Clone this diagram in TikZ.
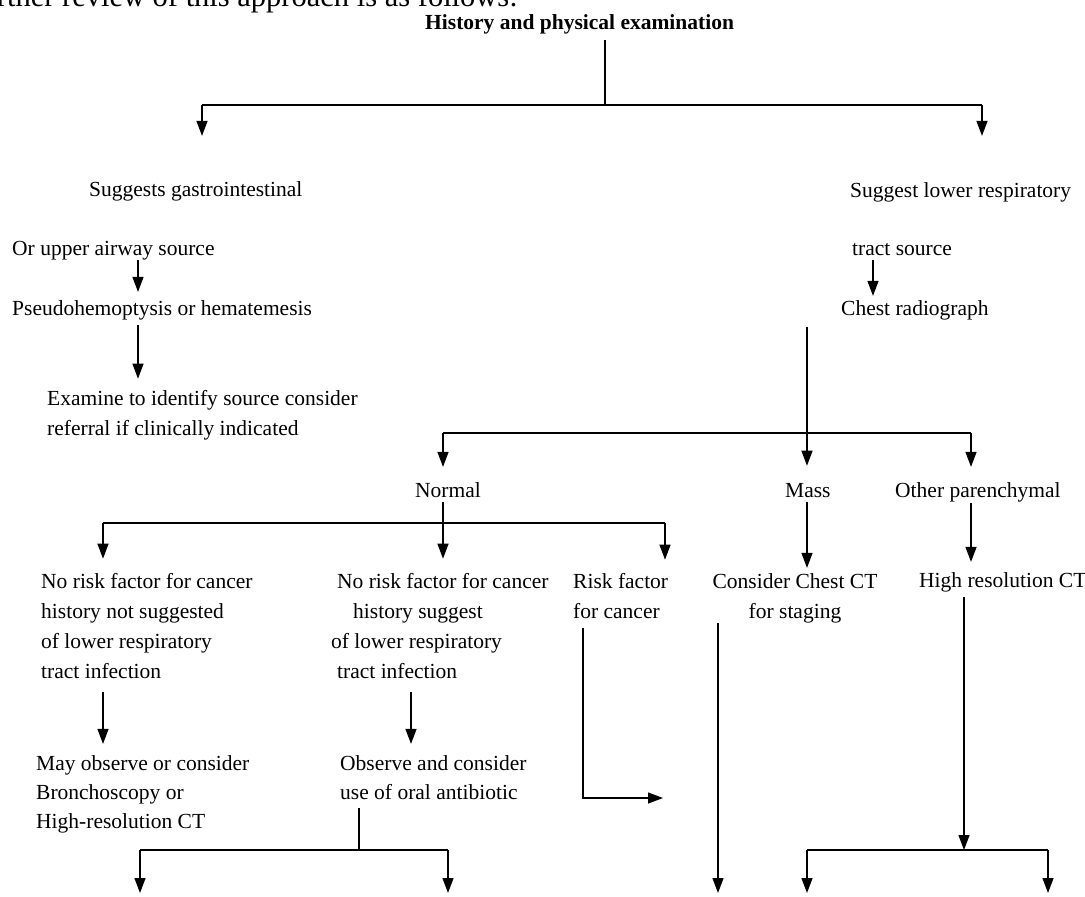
\documentclass[tikz,border=0pt]{standalone}
\usepackage{fontspec}
\setmainfont{Liberation Serif}
\usetikzlibrary{arrows.meta}

\begin{document}
\begin{tikzpicture}[x=1pt,y=-1pt,
  txt/.style={anchor=base west,inner sep=0pt,align=left,font=\fontsize{21.5}{30}\selectfont},
  link/.style={line width=1.3pt},
  arr/.style={link,-{Triangle[width=11pt,length=15pt]}}]
\useasboundingbox (0,0) rectangle (1085,897);
\begin{scope}
\clip (0,0) rectangle (1085,897);
\node[anchor=base east,inner sep=0pt,font=\fontsize{30.5}{34}\selectfont] (intro) at (518,6) {further review of this approach is as follows:};
\end{scope}
\node[txt,font=\fontsize{21.5}{26}\selectfont\bfseries] (title) at (425,29) {History and physical examination};
% first level (multi-line nodes sit on their last baseline)
\node[txt] (gi) at (89,196) {Suggests gastrointestinal};
\node[txt] (lr) at (850,197) {Suggest lower respiratory};
\node[txt] (orup) at (12,255) {Or upper airway source};
\node[txt] (tract) at (852,255) {tract source};
\node[txt] (pseudo) at (12,315) {Pseudohemoptysis or hematemesis};
\node[txt] (chest) at (841,315) {Chest radiograph};
\node[txt] (exam) at (47,435) {Examine to identify source consider\\referral if clinically indicated};
% radiograph results
\node[txt] (normal) at (415,497) {Normal};
\node[txt] (mass) at (785,497) {Mass};
\node[txt] (other) at (895,497) {Other parenchymal};
\node[txt] (norisk) at (41,678) {No risk factor for cancer\\history not suggested\\of lower respiratory\\tract infection};
\node[txt] (norisk2) at (331,678) {\hspace*{6pt}No risk factor for cancer\\\hspace*{22pt}history suggest\\of lower respiratory\\\hspace*{6pt}tract infection};
\node[txt] (risk) at (573,618) {Risk factor\\for cancer};
\node[txt,anchor=base,align=center] (ct) at (795,618) {Consider Chest CT\\for staging};
\node[txt] (hrct) at (919,587) {High resolution CT};
\node[txt,font=\fontsize{21.5}{29}\selectfont] (observe) at (36,828) {May observe or consider\\Bronchoscopy or\\High-resolution CT};
\node[txt,font=\fontsize{21.5}{29}\selectfont] (oral) at (340,799) {Observe and consider\\use of oral antibiotic};
% rails
\foreach \r/\x in {gx/138,rx/873,mx/807,nx/443,ox/971,ax/103,bx/411,kx/583,cx/718,hx/964,lx/359}
  {\coordinate (\r) at (\x,0);}
% top split
\coordinate (top) at (605,105);
\coordinate (topL) at (202,105);
\coordinate (topR) at (982,105);
\draw[link,shorten <=6pt] (title.south -| top) -- (top);
\draw[link] (topL) -- (topR);
\draw[arr,shorten >=45pt] (topL) -- (topL |- gi.north);
\draw[arr,shorten >=46pt] (topR) -- (topR |- lr.north);
% left branch
\draw[arr,shorten >=8pt] (gx |- orup.south) -- (gx |- pseudo.north);
\draw[arr,shorten <=5pt,shorten >=11pt] (gx |- pseudo.south) -- (gx |- exam.north);
% right branch
\draw[arr,shorten <=5pt,shorten >=4pt] (rx |- tract.south) -- (rx |- chest.north);
\draw[arr,shorten <=7pt,shorten >=17pt] (mx |- chest.south) -- (mx |- mass.north);
\coordinate (spL) at (443,433);
\coordinate (spR) at (971,433);
\draw[link] (spL) -- (spR);
\draw[arr,shorten >=15pt] (spL) -- (spL |- normal.north);
\draw[arr,shorten >=15pt] (spR) -- (spR |- other.north);
% normal split
\coordinate (nsL) at (103,523);
\coordinate (nsR) at (665,523);
\draw[link] (nsL) -- (nsR);
\draw[arr,shorten <=5pt,shorten >=14pt] (nx |- normal.south) -- (nx |- norisk2.north);
\draw[arr,shorten >=14pt] (nsL) -- (nsL |- norisk.north);
\draw[arr,shorten >=13pt] (nsR) -- (nsR |- risk.north);
\draw[arr,shorten <=5pt,shorten >=5pt] (mx |- mass.south) -- (mx |- ct.north);
\draw[arr,shorten <=1pt,shorten >=10pt] (ox |- other.south) -- (ox |- hrct.north);
% lower levels
\draw[arr,shorten <=14pt,shorten >=11pt] (ax |- norisk.south) -- (ax |- observe.north);
\draw[arr,shorten <=14pt,shorten >=11pt] (bx |- norisk2.south) -- (bx |- oral.north);
\coordinate (riskEnd) at (663,798);
\draw[arr,shorten <=10pt] (kx |- risk.south) |- (riskEnd);
\coordinate (ctEnd) at (718,893);
\draw[arr] (cx |- ct.south) -- (ctEnd);
\coordinate (hsplit) at (964,850);
\draw[arr,shorten <=5pt] (hx |- hrct.south) -- (hsplit);
\coordinate (osplit) at (359,850);
\draw[link,shorten <=9pt] (lx |- oral.south) -- (osplit);
\foreach \c/\x in {osL/140,osR/448,hsL/807,hsR/1048}
  {\coordinate (\c) at (\x,850); \coordinate (\c e) at (\x,893); \draw[arr] (\c) -- (\c e);}
\draw[link] (osL) -- (osR);
\draw[link] (hsL) -- (hsR);
\end{tikzpicture}
\end{document}
